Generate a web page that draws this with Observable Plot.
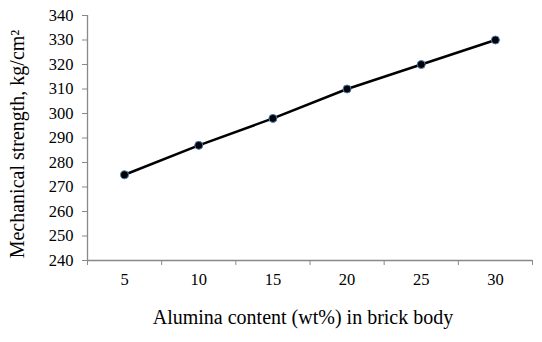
<!DOCTYPE html>
<html><head><meta charset="utf-8">
<script src="https://cdn.jsdelivr.net/npm/d3@7"></script>
<script src="https://cdn.jsdelivr.net/npm/@observablehq/plot@0.6"></script>
<style>
body{margin:0;background:#fff;}
</style>
</head><body>
<div id="chart"></div>
<script>
const alumina = [5, 10, 15, 20, 25, 30];
const strength = [275, 287, 298, 310, 320, 330];
const yTicks = [240, 250, 260, 270, 280, 290, 300, 310, 320, 330, 340];
const xBoundaries = [2.5, 7.5, 12.5, 17.5, 22.5, 27.5, 32.5];
const xLabel = "Alumina content (wt%) in brick body";
const yLabel = "Mechanical strength, kg/cm²";

const data = alumina.map((a, i) => ({a, s: strength[i]}));
const axisColor = "#898989";

const chart = Plot.plot({
  width: 542, height: 342,
  marginLeft: 87, marginRight: 10, marginTop: 15, marginBottom: 82,
  style: {fontFamily: "'Liberation Serif', 'Times New Roman', serif", fontSize: "16.5px", color: "#000", background: "#fff", overflow: "visible"},
  x: {type: "linear", domain: [2.5, 32.5]},
  y: {domain: [240, 340]},
  marks: [
    Plot.ruleX([2.5], {stroke: axisColor, strokeWidth: 1.3}),
    Plot.ruleY([240], {stroke: axisColor, strokeWidth: 1.3}),
    Plot.axisY({ticks: yTicks, tickSize: 5, tickPadding: 9, stroke: axisColor, strokeOpacity: 1, label: null, fontSize: 16.5, fill: "#000"}),
    Plot.axisX({ticks: xBoundaries, tickSize: 5, tickFormat: () => "", stroke: axisColor, strokeOpacity: 1, label: null}),
    Plot.axisX({ticks: alumina, tickSize: 0, tickPadding: 13, label: null, fontSize: 16.5, fill: "#000"}),
    Plot.text([xLabel], {frameAnchor: "bottom", dy: 63, dx: -7, fontSize: 20, fill: "#000", textAnchor: "middle"}),
    Plot.text([yLabel], {frameAnchor: "left", dx: -70, dy: 6, rotate: -90, fontSize: 20, fill: "#000", textAnchor: "middle"}),
    Plot.line(data, {x: "a", y: "s", stroke: "#000", strokeWidth: 2.5}),
    Plot.dot(data, {x: "a", y: "s", r: 4, fill: "#000", stroke: "#4a7ebb", strokeWidth: 1})
  ]
});
document.getElementById("chart").appendChild(chart);
</script>
</body></html>
